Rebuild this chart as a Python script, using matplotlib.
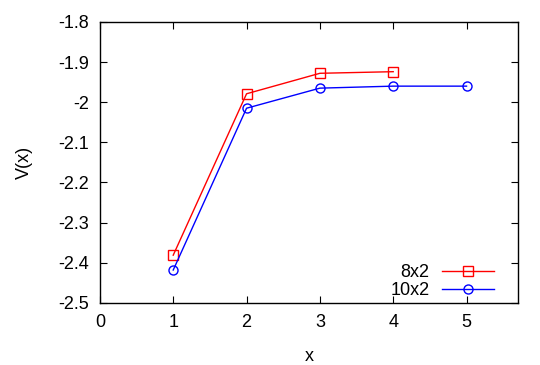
import matplotlib
matplotlib.use("Agg")
import matplotlib.pyplot as plt

plt.rcParams['font.family'] = ['Liberation Sans', 'DejaVu Sans']
plt.rcParams['font.size'] = 13

x_8x2 = [1, 2, 3, 4]
v_8x2 = [-2.381, -1.979, -1.928, -1.924]
x_10x2 = [1, 2, 3, 4, 5]
v_10x2 = [-2.418, -2.015, -1.965, -1.960, -1.960]

fig = plt.figure(figsize=(5.4, 3.65), dpi=100)
ax = fig.add_axes([0.185, 0.170, 0.774, 0.770])

ax.plot(x_8x2, v_8x2, color='red', marker='s', markersize=6.5, markerfacecolor='none',
        linewidth=1, label='8x2')
ax.plot(x_10x2, v_10x2, color='blue', marker='o', markersize=6.5, markerfacecolor='none',
        linewidth=1, label='10x2')

ax.set_xlim(0, 5.7)
ax.set_ylim(-2.5, -1.8)
ax.set_xticks([0, 1, 2, 3, 4, 5])
ax.set_yticks([-2.5, -2.4, -2.3, -2.2, -2.1, -2.0, -1.9, -1.8])
ax.set_yticklabels(['-2.5', '-2.4', '-2.3', '-2.2', '-2.1', '-2', '-1.9', '-1.8'])
ax.tick_params(direction='in', top=True, right=True, length=5, pad=8)
for s in ax.spines.values():
    s.set_linewidth(1)

ax.set_xlabel('x', labelpad=12)
ax.set_ylabel('V(x)', labelpad=18)

ax.legend(loc='lower right', bbox_to_anchor=(0.97, -0.025), frameon=False,
          markerfirst=False, handlelength=2.9, borderaxespad=0.2,
          labelspacing=0.05, handletextpad=0.7)

fig.savefig('out.png', dpi=100)
